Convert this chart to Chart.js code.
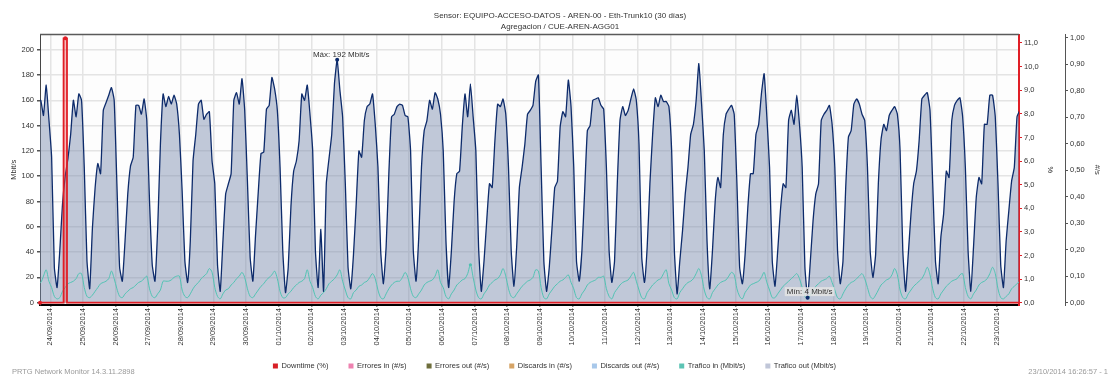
<!DOCTYPE html>
<html><head><meta charset="utf-8">
<script src="https://cdn.jsdelivr.net/npm/chart.js@4.4.1/dist/chart.umd.min.js"></script>
<style>html,body{margin:0;padding:0;background:#fff;}canvas{display:block;}</style>
</head><body>
<canvas id="c" width="1109" height="376"></canvas>
<script>
const titleLines = ['Sensor: EQUIPO-ACCESO-DATOS - AREN-00 - Eth-Trunk10 (30 días)', 'Agregacion / CUE-AREN-AGG01'];
const footerLeft = 'PRTG Network Monitor 14.3.11.2898';
const footerRight = '23/10/2014 16:26:57 - 1';
const dayLabels = ['24/09/2014','25/09/2014','26/09/2014','27/09/2014','28/09/2014','29/09/2014','30/09/2014','01/10/2014','02/10/2014','03/10/2014','04/10/2014','05/10/2014','06/10/2014','07/10/2014','08/10/2014','09/10/2014','10/10/2014','11/10/2014','12/10/2014','13/10/2014','14/10/2014','15/10/2014','16/10/2014','17/10/2014','18/10/2014','19/10/2014','20/10/2014','21/10/2014','22/10/2014','23/10/2014'];
// hours since 24/09/2014 00:00
const dayTicks = [0,24,48,72,96,120,144,168,192,216,240,264,288,312,336,360,384,408,432,456,480,504,528,552,576,600,624,648,672,696];
const startHour = -7.55, endHour = 712.45;
const sampleStartHour = -9, sampleStep = 2;
// Trafico out (Mbit/s), every 2 h at odd hours
const outValues = [
160,160,148,172,145,
115,28,12,41,78,100,114,133,160,147,165,160,
107,33,11,59,91,110,102,152,158,164,170,160,
94,28,17,49,86,108,115,156,156,149,161,144,
80,30,17,59,125,165,155,163,157,164,157,133,
88,33,16,49,112,133,157,160,145,149,151,112,
94,30,9,49,86,94,102,160,166,157,177,152,
96,36,17,54,88,118,119,153,156,178,169,152,
107,41,8,28,76,104,112,128,165,160,172,149,
120,41,12,58,9,94,114,133,173,192,168,147,
94,28,11,38,78,120,115,144,155,157,165,141,
107,41,15,44,102,147,149,155,157,156,148,147,
120,41,17,52,107,136,144,160,153,166,161,149,
120,49,12,41,80,102,104,139,165,147,173,147,
120,44,9,33,65,94,91,128,157,155,161,149,
107,41,13,44,91,107,125,149,152,156,175,180,
107,33,9,28,59,91,96,139,151,147,176,155,
107,33,17,41,88,136,140,160,161,162,156,153,
107,41,16,33,94,144,155,148,152,161,169,160,
125,36,16,44,94,133,162,155,164,159,159,155,
120,41,7,33,57,86,107,133,141,160,189,157,
120,49,11,41,80,99,91,133,149,153,156,149,
94,28,15,38,75,102,102,133,141,165,181,147,
107,33,13,41,73,94,91,144,152,141,164,141,
107,28,4,33,65,86,94,144,149,152,156,141,
107,41,15,33,91,131,136,157,161,157,149,144,
107,41,20,38,94,129,141,136,148,152,155,149,
120,41,9,38,70,94,104,128,161,164,166,152,
94,33,15,52,70,104,99,144,156,160,162,147,
107,41,9,44,83,99,94,141,141,164,164,147,
94,30,12,49,73,96,107,147,152
];
// Trafico in (Mbit/s)
const inValues = [
16,16,21,26,17,
12,5,3,4,9,12,15,16,17,19,23,23,
12,5,4,6,9,12,15,16,17,19,25,19,
11,5,4,7,9,11,12,14,16,17,19,21,
11,5,4,7,10,17,17,17,18,20,21,21,
10,5,4,7,11,14,16,19,21,23,27,24,
12,5,3,7,10,11,14,16,19,21,24,20,
11,5,4,7,10,13,15,18,20,22,25,19,
9,4,4,7,9,12,14,16,17,19,26,17,
12,5,3,6,8,11,15,17,19,22,26,17,
10,4,3,8,10,13,14,16,17,20,23,19,
10,4,3,7,11,14,16,17,17,20,24,20,
11,5,4,7,10,14,16,17,18,21,26,16,
12,5,3,7,10,14,16,18,19,23,30,20,
10,4,3,7,10,14,16,18,19,22,27,21,
11,5,4,7,10,13,15,17,18,20,26,25,
12,4,3,7,10,13,15,17,18,20,22,16,
11,4,3,7,10,14,16,17,18,20,20,21,
11,5,3,8,11,14,16,17,18,21,24,17,
10,4,3,8,11,14,16,18,19,23,26,15,
10,4,3,8,11,14,16,17,19,23,27,21,
10,4,3,8,11,14,16,17,18,21,24,22,
11,5,3,8,11,14,15,16,17,20,24,16,
10,4,4,7,10,13,15,17,19,21,23,19,
12,5,3,6,9,13,15,17,18,19,21,16,
10,4,3,7,11,14,16,17,19,21,23,19,
12,5,3,6,10,14,16,18,19,22,27,22,
10,4,3,7,10,13,15,17,19,23,28,22,
11,4,3,7,10,13,15,17,18,19,22,23,
12,5,3,7,10,14,16,17,19,23,28,23,
11,4,3,5,7,11,13,15,17
];
// Downtime (%)
const downtimeHours = [-7.55, 9.8, 9.8, 11.05, 12.3, 12.3, 712.45];
const downtimeValues = [0, 0, 11.2, 11.2, 11.2, 0, 0];
const downtimeMarks = [2, 0, 0, 2, 0, 0, 0];
const mbitTicks = [0,20,40,60,80,100,120,140,160,180,200];
const pctTicks = [0,1,2,3,4,5,6,7,8,9,10,11];
const cntTicks = [0,0.1,0.2,0.3,0.4,0.5,0.6,0.7,0.8,0.9,1.0];
const legendNames = ['Downtime (%)','Errores in (#/s)','Errores out (#/s)','Discards in (#/s)','Discards out (#/s)','Trafico in (Mbit/s)','Trafico out (Mbit/s)'];
const legendColors = ['#d81f26','#ee82b0','#6e6e3c','#d6a466','#a8c8ea','#5cc4b4','#c0c6d8'];

const FONT = '"Liberation Sans", Arial, sans-serif';
const hourOf = i => sampleStartHour + i * sampleStep;
const outPts = outValues.map((v, i) => ({x: hourOf(i), y: v}));
const inPts = inValues.map((v, i) => ({x: hourOf(i), y: v}));
const dtPts = downtimeValues.map((v, i) => ({x: downtimeHours[i], y: v}));
const comma = (v, d) => v.toFixed(d).replace('.', ',');

const bgPlugin = {
  id: 'bg',
  beforeDraw(chart) {
    const {ctx, chartArea: a} = chart;
    ctx.save(); ctx.fillStyle = '#fdfdfd';
    ctx.fillRect(a.left, a.top, a.right - a.left, a.bottom - a.top);
    ctx.restore();
  },
  afterDraw(chart) {
    const {ctx, chartArea: a, width} = chart;
    ctx.save();
    ctx.strokeStyle = '#5a5a5a'; ctx.lineWidth = 1.5;
    ctx.beginPath(); ctx.moveTo(a.left, a.top); ctx.lineTo(a.right, a.top); ctx.stroke();
    // legend
    ctx.font = '7.5px ' + FONT; ctx.textBaseline = 'middle'; ctx.textAlign = 'left';
    const box = 5, gap = 3.5, spacing = 20, ly = 366;
    const widths = legendNames.map(n => box + gap + ctx.measureText(n).width);
    const total = widths.reduce((s, w) => s + w, 0) + spacing * (legendNames.length - 1);
    let lx = width / 2 - total / 2;
    legendNames.forEach((n, i) => {
      ctx.fillStyle = legendColors[i]; ctx.fillRect(lx, ly - box / 2, box, box);
      ctx.fillStyle = '#333'; ctx.fillText(n, lx + box + gap, ly);
      lx += widths[i] + spacing;
    });
    // footer
    ctx.font = '7.5px ' + FONT; ctx.fillStyle = '#9a9a9a';
    ctx.textAlign = 'left'; ctx.fillText(footerLeft, 12, 371.5);
    ctx.textAlign = 'right'; ctx.fillText(footerRight, 1108, 371.5);
    ctx.restore();
  }
};

const annotPlugin = {
  id: 'annot',
  afterDatasetsDraw(chart) {
    const {ctx} = chart; const xs = chart.scales.x, ys = chart.scales.y;
    let maxI = -1, minI = -1;
    outValues.forEach((v, i) => {
      const h = hourOf(i); if (h < startHour || h > endHour) return;
      if (maxI < 0 || v > outValues[maxI]) maxI = i;
      if (minI < 0 || v < outValues[minI]) minI = i;
    });
    ctx.save();
    ctx.font = '8px ' + FONT; ctx.textAlign = 'center'; ctx.textBaseline = 'middle';
    let px = xs.getPixelForValue(hourOf(maxI)), py = ys.getPixelForValue(outValues[maxI]);
    ctx.fillStyle = '#0d2b6b'; ctx.beginPath(); ctx.arc(px, py, 2, 0, Math.PI * 2); ctx.fill();
    ctx.fillStyle = '#333'; ctx.fillText('Máx: ' + outValues[maxI] + ' Mbit/s', px + 4, py - 5);
    px = xs.getPixelForValue(hourOf(minI)); py = ys.getPixelForValue(outValues[minI]);
    const t = 'Mín: ' + outValues[minI] + ' Mbit/s'; const w = ctx.measureText(t).width;
    ctx.fillStyle = 'rgba(228,228,228,0.85)'; ctx.fillRect(px + 2 - w / 2 - 2, py - 10.5, w + 4, 9);
    ctx.fillStyle = '#333'; ctx.fillText(t, px + 2, py - 6);
    ctx.fillStyle = '#0d2b6b'; ctx.beginPath(); ctx.arc(px, py, 2, 0, Math.PI * 2); ctx.fill();
    let mi = 0; inValues.forEach((v, i) => { if (v > inValues[mi]) mi = i; });
    ctx.fillStyle = '#4fc0b0'; ctx.beginPath();
    ctx.arc(xs.getPixelForValue(hourOf(mi)), ys.getPixelForValue(inValues[mi]), 1.6, 0, Math.PI * 2); ctx.fill();
    ctx.restore();
  }
};

new Chart(document.getElementById('c'), {
  type: 'line',
  data: {
    datasets: [
      {label: 'Downtime (%)', data: dtPts, yAxisID: 'yPct', borderColor: '#e01e26', borderWidth: 1.8,
       backgroundColor: 'rgba(232,70,70,0.35)', fill: 'origin', pointRadius: downtimeMarks,
       pointBackgroundColor: '#e01e26', pointBorderWidth: 0, tension: 0, clip: 6},
      {label: 'Trafico in (Mbit/s)', data: inPts, yAxisID: 'y', borderColor: '#52c3b3', borderWidth: 1,
       fill: false, pointRadius: 0, tension: 0.3, clip: 0},
      {label: 'Trafico out (Mbit/s)', data: outPts, yAxisID: 'y', borderColor: '#0d2b6b', borderWidth: 1.3,
       backgroundColor: 'rgba(118,136,170,0.45)', fill: 'origin', pointRadius: 0, tension: 0.15, clip: 0}
    ]
  },
  options: {
    responsive: false, animation: false, devicePixelRatio: 1,
    layout: {padding: {left: 11, right: 0, top: 0, bottom: 0}},
    plugins: {
      tooltip: {enabled: false},
      legend: {display: false},
      title: {display: true, text: titleLines, color: '#333', font: {size: 8, family: FONT, weight: 'normal', lineHeight: 1.375},
              padding: {top: 10.2, bottom: 2.3}}
    },
    scales: {
      x: {type: 'linear', min: startHour, max: endHour,
        afterBuildTicks: s => { s.ticks = dayTicks.map(v => ({value: v})); },
        afterFit: s => { s.height = 71; },
        ticks: {autoSkip: false, maxRotation: 90, minRotation: 90, color: '#333', padding: 1,
          font: {size: 7.5, family: FONT}, callback: (v) => dayLabels[dayTicks.indexOf(v)]},
        grid: {color: '#e4e4e4', lineWidth: 1.5, tickLength: 2, tickColor: '#888'},
        border: {display: true, color: '#000', width: 2}},
      y: {position: 'left', min: -1.82, max: 212,
        afterBuildTicks: s => { s.ticks = mbitTicks.map(v => ({value: v})); },
        afterFit: s => { s.width = 29; },
        ticks: {color: '#333', padding: 3, font: {size: 7.5, family: FONT}},
        grid: {color: '#e4e4e4', lineWidth: 1.5, tickLength: 3, tickColor: '#555'},
        border: {display: true, color: '#444', width: 1},
        title: {display: true, text: 'Mbit/s', color: '#333', font: {size: 7.5, family: FONT}, padding: {top: -2, bottom: 0}}},
      yPct: {position: 'right', min: -0.097, max: 11.36,
        afterBuildTicks: s => { s.ticks = pctTicks.map(v => ({value: v})); },
        afterFit: s => { s.width = 46; },
        ticks: {color: '#333', padding: 2, font: {size: 7.5, family: FONT}, callback: v => comma(v, 1)},
        grid: {drawOnChartArea: false, color: '#e01e26', tickLength: 3, tickColor: '#e01e26'},
        border: {display: true, color: '#e01e26', width: 2},
        title: {display: true, text: '%', color: '#333', font: {size: 7.5, family: FONT}, padding: {top: 10.8, bottom: 0}}},
      yCnt: {position: 'right', min: -0.0087, max: 1.012,
        afterBuildTicks: s => { s.ticks = cntTicks.map(v => ({value: v})); },
        afterFit: s => { s.width = 44; },
        ticks: {color: '#333', padding: 2, font: {size: 7.5, family: FONT}, callback: v => comma(v, 2)},
        grid: {drawOnChartArea: false, color: '#555', tickLength: 3, tickColor: '#555'},
        border: {display: true, color: '#555', width: 1},
        title: {display: true, text: '#/s', color: '#333', font: {size: 7.5, family: FONT}, padding: {top: 7.8, bottom: 0}}}
    }
  },
  plugins: [bgPlugin, annotPlugin]
});
</script>
</body></html>
